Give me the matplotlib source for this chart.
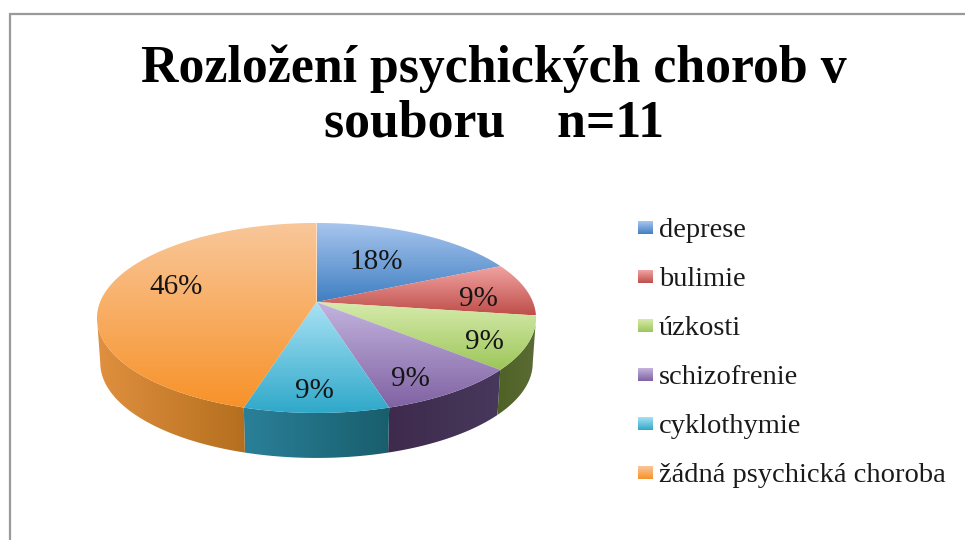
import numpy as np
import matplotlib
matplotlib.use('Agg')
import matplotlib.pyplot as plt
from matplotlib.colors import LinearSegmentedColormap
from matplotlib.patches import Polygon

# Data
categories = ['deprese', 'bulimie', 'úzkosti', 'schizofrenie', 'cyklothymie',
              'žádná psychická choroba']
counts = [2, 1, 1, 1, 1, 5]
pct_labels = ['18%', '9%', '9%', '9%', '9%', '46%']
title = 'Rozložení psychických chorob v\nsouboru    n=11'

# Colours (light, dark) for the top of each slice and its wall
top_light = ['#A9C6EE', '#F2A5A3', '#D6EBAC', '#C3B4DE', '#A9E2F5', '#F9C79A']
top_dark = ['#3F7FC2', '#BF4E4A', '#9DC659', '#8062A3', '#2FA8C9', '#F79229']
wall_left = ['#2F5F8F', '#8A3633', '#4F6224', '#3E2A4C', '#2A8099', '#E0903F']
wall_right = ['#2F5F8F', '#8A3633', '#5B6B37', '#47395C', '#195E6D', '#B46F1E']

# Layout, in pixels of the 965x540 picture
cx, cy = 316.5, 302
rx, ry, persp = 216.4, 92.3, 0.168
depth, shrink = 45, 0.985
label_xy = [(376, 262), (478, 299), (484, 342), (410, 379), (314, 391), (176, 287)]
legend_x, legend_y, legend_step = 638, 229, 49

plt.rcParams['font.family'] = ['Liberation Serif', 'DejaVu Serif']


def rim(theta):
    # theta in degrees, clockwise from the top of the pie, seen in perspective
    t = np.radians(theta)
    d = 1 + persp * np.cos(t)
    return cx + rx * np.sin(t) / d, cy - ry * np.cos(t) / d


def gradient(ax, pts, c0, c1, vertical=True):
    patch = Polygon(pts, closed=True, fc='none', ec='none')
    ax.add_patch(patch)
    cmap = LinearSegmentedColormap.from_list('g', [c0, c1])
    ramp = np.linspace(0, 1, 256)
    ramp = ramp.reshape(-1, 1) if vertical else ramp.reshape(1, -1)
    x0, y0 = pts.min(axis=0)
    x1, y1 = pts.max(axis=0)
    im = ax.imshow(ramp, cmap=cmap, extent=(x0, x1, y1, y0), aspect='auto',
                   interpolation='bilinear', zorder=patch.get_zorder())
    im.set_clip_path(patch)


fig = plt.figure(figsize=(9.65, 5.4), dpi=100)
ax = fig.add_axes([0, 0, 1, 1])
ax.axis('off')

edges = np.concatenate([[0], np.cumsum(counts)]) / np.sum(counts) * 360
limit = np.degrees(np.arccos(-persp))

# Walls
for i in range(len(counts)):
    a0, a1 = max(edges[i], limit), min(edges[i + 1], 360 - limit)
    if a1 <= a0:
        continue
    th = np.linspace(a0, a1, 80)
    x, y = rim(th)
    xb, yb = cx + (x - cx) * shrink, y + depth
    pts = np.column_stack([np.r_[x, xb[::-1]], np.r_[y, yb[::-1]]])
    gradient(ax, pts, wall_left[i], wall_right[i], vertical=False)

# Top of the pie
for i in range(len(counts)):
    th = np.linspace(edges[i], edges[i + 1], 120)
    x, y = rim(th)
    pts = np.column_stack([np.r_[cx, x], np.r_[cy, y]])
    gradient(ax, pts, top_light[i], top_dark[i])

for (x, y), s in zip(label_xy, pct_labels):
    ax.text(x, y, s, ha='center', va='center', fontsize=21, color='#151515')

# Legend
for i, name in enumerate(categories):
    y = legend_y + i * legend_step
    pts = np.array([[legend_x, y - 8], [legend_x + 15, y - 8],
                    [legend_x + 15, y + 5], [legend_x, y + 5]], dtype=float)
    gradient(ax, pts, top_light[i], top_dark[i])
    ax.text(legend_x + 21, y + 8, name, ha='left', va='baseline', fontsize=20.5, color='#1a1a1a')

ax.text(494, 96, title, ha='center', va='center', fontsize=37.3, fontweight='bold',
        color='black', linespacing=1.16)

# Chart frame, cut by the picture edge
ax.plot([9.5, 9.5, 965], [540, 13.5, 13.5], color='#9a9a9a', lw=1.6, solid_joinstyle='miter')

ax.set_xlim(0, 965)
ax.set_ylim(540, 0)
fig.savefig('out.png', dpi=100, facecolor='white')
